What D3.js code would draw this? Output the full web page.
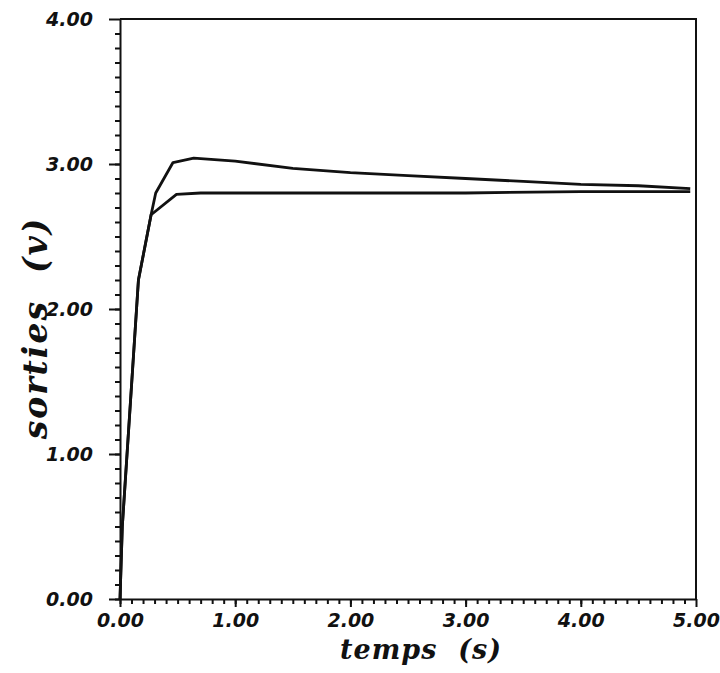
<!DOCTYPE html>
<html>
<head>
    <meta charset="utf-8" />
    <title>sorties / temps</title>
    <script src="https://cdn.jsdelivr.net/npm/d3@7"></script>
    <style>
        body { margin: 0; background: #fff; }
        .tick text { font-family: "DejaVu Sans", sans-serif; font-weight: bold; font-style: italic; font-size: 19px; fill: #111; }
        .domain, .tick line { stroke: #111; stroke-width: 2px; }
        .title { font-family: "DejaVu Serif", serif; font-weight: bold; font-style: italic; fill: #111; }
    </style>
</head>
<body>
    <svg width="720" height="673"></svg>
    <script>
        // time (s) and outputs (v)
        var timeA = [0, 0.02, 0.16, 0.27, 0.31, 0.46, 0.64, 1.0, 1.5, 2.0, 2.5, 3.0, 3.5, 4.0, 4.5, 4.95];
        var valA  = [0, 0.5, 2.2, 2.65, 2.8, 3.01, 3.04, 3.02, 2.97, 2.94, 2.92, 2.90, 2.88, 2.86, 2.85, 2.83];
        var timeB = [0, 0.02, 0.16, 0.27, 0.49, 0.7, 1.0, 2.0, 3.0, 4.0, 4.95];
        var valB  = [0, 0.5, 2.2, 2.65, 2.79, 2.80, 2.80, 2.80, 2.80, 2.81, 2.81];

        var xTicks = [0, 1, 2, 3, 4, 5];
        var yTicks = [0, 1, 2, 3, 4];

        var svg = d3.select("svg");

        var mLeft = 120, mRight = 696, mTop = 19, mBottom = 599;

        var x = d3.scaleLinear().domain([0, 5]).range([mLeft, mRight]);
        var y = d3.scaleLinear().domain([0, 4]).range([mBottom, mTop]);
        var fmt = d3.format(".2f");

        // minor ticks every 0.1
        svg.append("g")
            .attr("transform", "translate(0," + mBottom + ")")
            .call(d3.axisBottom(x).tickValues(d3.range(0, 50).map(function (i) { return i / 10; })).tickSize(5).tickFormat(""))
            .select(".domain").remove();
        svg.append("g")
            .attr("transform", "translate(" + mLeft + ",0)")
            .call(d3.axisLeft(y).tickValues(d3.range(0, 40).map(function (i) { return i / 10; })).tickSize(5).tickFormat(""))
            .select(".domain").remove();

        // major ticks
        svg.append("g")
            .attr("transform", "translate(0," + mBottom + ")")
            .call(d3.axisBottom(x).tickValues(xTicks).tickSize(8).tickSizeOuter(0).tickPadding(7).tickFormat(fmt));
        svg.append("g")
            .attr("transform", "translate(" + mLeft + ",0)")
            .call(d3.axisLeft(y).tickValues(yTicks).tickSize(11).tickSizeOuter(0).tickPadding(16).tickFormat(fmt));

        // box top and right
        svg.append("path")
            .attr("d", "M" + mLeft + "," + mTop + "H" + mRight + "V" + mBottom)
            .attr("fill", "none")
            .attr("stroke", "#111")
            .attr("stroke-width", 2);

        var line = d3.line()
            .x(function (d) { return x(d[0]); })
            .y(function (d) { return y(d[1]); });

        [[timeA, valA], [timeB, valB]].forEach(function (s) {
            svg.append("path")
                .datum(d3.zip(s[0], s[1]))
                .attr("d", line)
                .attr("fill", "none")
                .attr("stroke", "#111")
                .attr("stroke-width", 2.8)
                .attr("stroke-linejoin", "round");
        });

        svg.append("text")
            .attr("class", "title")
            .attr("x", 421)
            .attr("y", 659)
            .attr("text-anchor", "middle")
            .attr("font-size", 27)
            .attr("letter-spacing", 1)
            .attr("xml:space", "preserve")
            .text("temps  (s)");

        svg.append("text")
            .attr("class", "title")
            .attr("transform", "translate(47,328) rotate(-90)")
            .attr("text-anchor", "middle")
            .attr("font-size", 33)
            .attr("letter-spacing", 2)
            .attr("xml:space", "preserve")
            .text("sorties  (v)");
    </script>
</body>
</html>
